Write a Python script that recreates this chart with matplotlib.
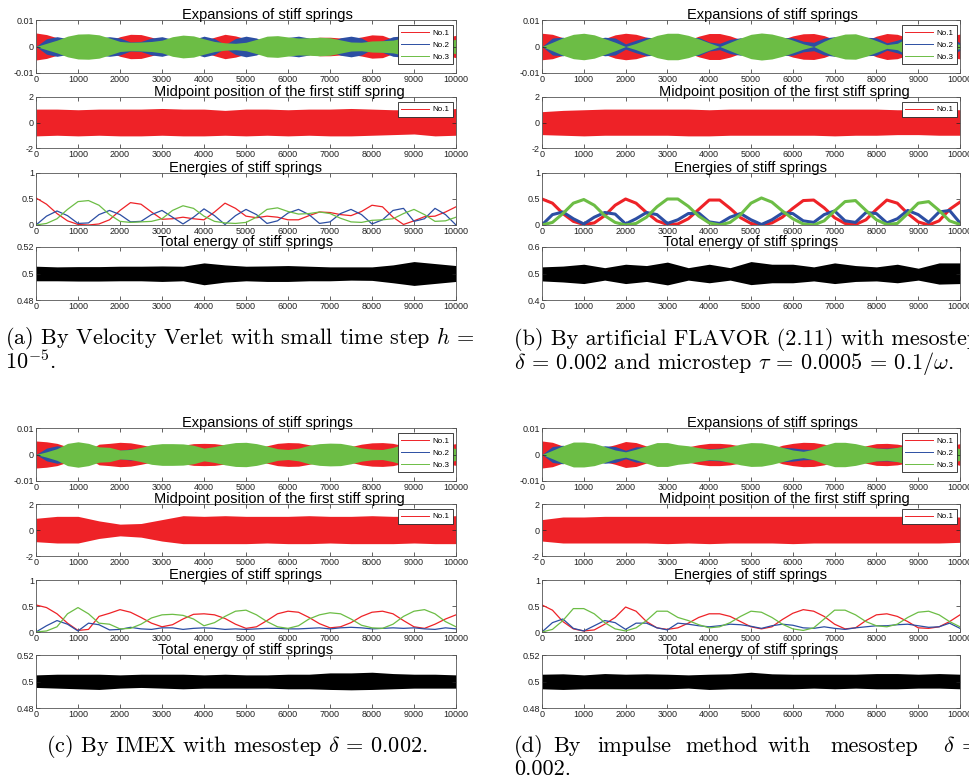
import numpy as np
import matplotlib.pyplot as plt
from matplotlib.lines import Line2D

plt.rcParams['font.family'] = ['Liberation Sans', 'DejaVu Sans']
plt.rcParams['mathtext.fontset'] = 'cm'

# time grids (every 250 for envelopes / energies, every 500 for noisy bands)
t_fine = np.arange(0, 10001, 250)
t_band = np.arange(0, 10001, 500)

# ---------------- (a) Velocity Verlet ----------------
# expansion envelopes, units of 1e-3
exp_red_a = [5.1, 4.5, 3.3, 2.0, 0.7, 0.0, 1.0, 2.2, 3.7, 4.6, 4.5, 3.5, 2.3, 2.4, 2.7, 2.4, 2.2, 3.5, 4.6, 4.0, 2.9,
             2.6, 2.9, 2.7, 2.2, 2.2, 3.0, 3.5, 3.5, 3.2, 3.0, 3.6, 4.4, 4.2, 2.7, 0.7, 2.0, 2.8, 2.9, 3.5, 4.2]
exp_blue_a = [0.0, 2.9, 3.7, 3.0, 1.2, 1.4, 3.2, 3.7, 3.2, 1.7, 1.9, 3.2, 3.7, 2.7, 1.0, 2.7, 3.9, 3.0, 0.7, 3.0, 3.9,
              3.2, 1.2, 2.0, 3.4, 3.9, 3.2, 1.2, 1.7, 3.3, 3.9, 3.2, 1.0, 2.2, 3.7, 4.0, 1.9, 2.4, 4.0, 3.2, 0.0]
exp_green_a = [0.0, 1.2, 2.4, 3.9, 4.7, 4.8, 4.4, 3.2, 1.9, 1.6, 1.7, 1.9, 2.4, 3.7, 4.3, 4.0, 2.9, 1.9, 1.4, 1.2, 1.6,
               2.7, 3.9, 4.1, 3.6, 3.2, 3.3, 3.5, 3.3, 2.5, 1.7, 1.6, 2.1, 2.2, 2.4, 3.3, 3.9, 3.2, 1.9, 2.0, 2.7]
mid_up_a = [1.05, 1.05, 1.0, 1.05, 1.05, 1.05, 1.1, 1.05, 1.05, 0.95, 1.05, 1.05, 1.0, 1.05, 1.05, 1.1, 1.05, 1.0, 1.0, 0.95, 1.1]
mid_lo_a = [-1.05, -1.0, -1.05, -1.0, -1.05, -1.05, -1.0, -1.05, -1.05, -1.0, -1.05, -1.0, -1.05, -1.0, -1.05, -1.05, -1.0, -0.95, -0.9, -1.05, -1.0]
en_red_a = [0.52, 0.40, 0.22, 0.08, 0.01, 0.0, 0.02, 0.10, 0.28, 0.43, 0.40, 0.25, 0.11, 0.12, 0.15, 0.12, 0.10, 0.25, 0.42, 0.32, 0.17,
            0.14, 0.17, 0.15, 0.10, 0.10, 0.18, 0.25, 0.24, 0.20, 0.18, 0.26, 0.38, 0.35, 0.15, 0.01, 0.08, 0.16, 0.17, 0.25, 0.35]
en_blue_a = [0.0, 0.17, 0.27, 0.18, 0.03, 0.04, 0.20, 0.28, 0.20, 0.06, 0.07, 0.20, 0.28, 0.15, 0.02, 0.15, 0.31, 0.18, 0.01, 0.18, 0.30,
             0.20, 0.03, 0.08, 0.23, 0.30, 0.20, 0.03, 0.06, 0.22, 0.30, 0.20, 0.02, 0.10, 0.28, 0.32, 0.07, 0.12, 0.32, 0.20, 0.0]
en_green_a = [0.0, 0.03, 0.12, 0.30, 0.45, 0.47, 0.38, 0.20, 0.07, 0.05, 0.06, 0.07, 0.12, 0.28, 0.37, 0.32, 0.17, 0.07, 0.04, 0.03, 0.05,
              0.15, 0.30, 0.33, 0.26, 0.21, 0.22, 0.25, 0.22, 0.13, 0.06, 0.05, 0.09, 0.10, 0.12, 0.22, 0.30, 0.20, 0.07, 0.08, 0.15]
tot_up_a = [0.5055, 0.505, 0.5052, 0.5052, 0.5055, 0.5055, 0.5057, 0.5055, 0.508, 0.5065, 0.5055, 0.5057, 0.506, 0.5055, 0.505, 0.505,
            0.505, 0.5065, 0.509, 0.5075, 0.506]
tot_lo_a = [0.4945, 0.4945, 0.4943, 0.4943, 0.4945, 0.4945, 0.494, 0.4945, 0.4915, 0.4935, 0.4945, 0.494, 0.494, 0.4945, 0.4945, 0.495,
            0.4948, 0.493, 0.491, 0.4925, 0.494]

# ---------------- (b) artificial FLAVOR ----------------
exp_red_b = [5.0, 4.6, 3.3, 1.9, 0.7, 1.4, 3.0, 4.4, 5.0, 4.6, 3.5, 2.0, 0.7, 1.0, 2.4, 3.9, 4.9, 4.9, 4.0, 2.6, 1.2,
             0.0, 1.4, 2.7, 4.0, 4.8, 4.9, 4.1, 2.6, 1.2, 0.7, 2.2, 3.9, 4.9, 4.6, 3.3, 1.7, 0.0, 2.0, 3.9, 4.7]
exp_blue_b = [0.0, 3.2, 3.5, 2.4, 1.0, 2.7, 3.5, 3.2, 1.0, 2.4, 3.5, 3.2, 1.2, 2.2, 3.3, 3.4, 1.7, 1.2, 2.7, 3.3, 2.2,
              0.7, 2.2, 3.4, 3.3, 2.0, 1.6, 3.2, 3.7, 2.0, 1.6, 3.5, 3.3, 1.4, 2.4, 3.7, 3.2, 1.6, 3.5, 3.7, 1.4]
exp_green_b = [0.0, 1.6, 3.3, 4.6, 5.0, 4.4, 3.0, 1.6, 0.0, 1.2, 2.7, 4.2, 5.0, 5.0, 4.2, 2.9, 1.4, 0.0, 1.6, 3.2, 4.6,
               5.1, 4.7, 3.7, 2.4, 1.0, 0.0, 2.0, 3.7, 4.7, 4.8, 3.7, 2.2, 0.7, 1.2, 3.3, 4.6, 4.7, 3.7, 2.0, 0.7]
mid_up_b = [0.85, 0.95, 1.0, 1.05, 1.05, 1.05, 1.05, 1.05, 1.0, 1.05, 1.05, 1.05, 1.05, 1.05, 1.05, 1.05, 1.05, 1.0, 1.0, 1.05, 1.0]
mid_lo_b = [-0.95, -1.0, -1.05, -1.0, -1.0, -1.0, -1.0, -1.05, -1.05, -1.0, -1.0, -1.0, -1.0, -1.0, -1.05, -1.0, -1.0, -0.95, -0.95, -1.0, -1.0]
en_red_b = [0.50, 0.42, 0.22, 0.07, 0.01, 0.04, 0.18, 0.38, 0.50, 0.42, 0.24, 0.08, 0.01, 0.02, 0.12, 0.30, 0.48, 0.48, 0.32, 0.14, 0.03,
            0.0, 0.04, 0.15, 0.32, 0.47, 0.48, 0.33, 0.14, 0.03, 0.01, 0.10, 0.30, 0.48, 0.42, 0.22, 0.06, 0.0, 0.08, 0.30, 0.44]
en_blue_b = [0.0, 0.20, 0.25, 0.12, 0.02, 0.15, 0.24, 0.21, 0.02, 0.12, 0.24, 0.20, 0.03, 0.10, 0.22, 0.23, 0.06, 0.03, 0.15, 0.22, 0.10,
             0.01, 0.10, 0.23, 0.22, 0.08, 0.05, 0.20, 0.27, 0.08, 0.05, 0.24, 0.22, 0.04, 0.12, 0.28, 0.20, 0.05, 0.25, 0.28, 0.04]
en_green_b = [0.0, 0.05, 0.22, 0.42, 0.49, 0.38, 0.18, 0.05, 0.0, 0.03, 0.15, 0.35, 0.50, 0.50, 0.36, 0.17, 0.04, 0.0, 0.05, 0.20, 0.42,
              0.52, 0.44, 0.27, 0.12, 0.02, 0.0, 0.08, 0.27, 0.45, 0.47, 0.28, 0.10, 0.01, 0.03, 0.22, 0.42, 0.45, 0.28, 0.08, 0.01]
tot_up_b = [0.525, 0.528, 0.535, 0.522, 0.535, 0.53, 0.543, 0.522, 0.535, 0.522, 0.545, 0.535, 0.535, 0.525, 0.54, 0.53, 0.525, 0.535,
            0.52, 0.54, 0.54]
tot_lo_b = [0.472, 0.468, 0.462, 0.475, 0.462, 0.47, 0.457, 0.475, 0.465, 0.475, 0.458, 0.465, 0.465, 0.472, 0.462, 0.47, 0.472, 0.465,
            0.475, 0.46, 0.462]

# ---------------- (c) IMEX ----------------
exp_red_c = [5.1, 4.8, 4.2, 2.9, 1.2, 1.6, 3.9, 4.2, 4.6, 4.4, 3.7, 2.9, 2.2, 2.6, 3.5, 4.1, 4.2, 4.1, 3.6, 2.7, 1.9,
             2.2, 3.3, 4.2, 4.5, 4.4, 3.7, 2.8, 2.0, 2.2, 3.0, 3.9, 4.4, 4.5, 4.2, 3.3, 2.2, 1.9, 2.7, 3.5, 4.1]
exp_blue_c = [0.0, 2.4, 3.3, 2.7, 1.0, 2.9, 2.6, 1.4, 1.6, 2.1, 1.7, 1.6, 2.0, 2.0, 1.6, 1.9, 2.0, 1.9, 1.6, 1.7, 1.6,
              1.7, 1.9, 1.9, 1.7, 1.7, 1.9, 2.0, 1.7, 2.0, 2.1, 2.0, 1.7, 1.9, 2.0, 1.9, 2.0, 1.7, 1.6, 2.0, 1.7]
exp_green_c = [0.0, 1.0, 2.2, 4.2, 4.8, 4.2, 2.9, 2.7, 1.7, 1.9, 2.7, 3.7, 4.1, 4.1, 4.0, 3.5, 2.4, 3.0, 3.9, 4.5, 4.6,
               4.1, 3.2, 2.2, 1.9, 2.4, 3.5, 4.1, 4.3, 4.2, 3.5, 2.5, 2.0, 1.9, 2.7, 3.9, 4.5, 4.6, 4.2, 3.2, 2.2]
mid_up_c = [0.9, 1.05, 1.05, 0.7, 0.45, 0.5, 0.8, 1.1, 1.05, 1.1, 1.05, 1.05, 1.05, 1.1, 1.05, 1.05, 1.1, 1.05, 1.05, 1.05, 1.1]
mid_lo_c = [-0.9, -1.0, -1.0, -0.65, -0.45, -0.55, -0.85, -1.05, -1.05, -1.05, -1.05, -1.0, -1.05, -1.05, -1.0, -1.05, -1.05, -1.05,
            -1.0, -1.05, -1.05]
en_red_c = [0.52, 0.47, 0.35, 0.17, 0.03, 0.05, 0.30, 0.36, 0.43, 0.38, 0.28, 0.17, 0.10, 0.14, 0.25, 0.34, 0.35, 0.33, 0.26, 0.15, 0.07,
            0.10, 0.22, 0.35, 0.40, 0.38, 0.28, 0.16, 0.08, 0.10, 0.18, 0.30, 0.38, 0.40, 0.35, 0.22, 0.10, 0.07, 0.15, 0.25, 0.33]
en_blue_c = [0.0, 0.12, 0.22, 0.15, 0.02, 0.17, 0.14, 0.04, 0.05, 0.09, 0.06, 0.05, 0.08, 0.08, 0.05, 0.07, 0.08, 0.07, 0.05, 0.06, 0.05,
             0.06, 0.07, 0.07, 0.06, 0.06, 0.07, 0.08, 0.06, 0.08, 0.09, 0.08, 0.06, 0.07, 0.08, 0.07, 0.08, 0.06, 0.05, 0.08, 0.06]
en_green_c = [0.0, 0.02, 0.10, 0.35, 0.47, 0.35, 0.17, 0.15, 0.06, 0.07, 0.15, 0.27, 0.33, 0.34, 0.32, 0.25, 0.12, 0.18, 0.30, 0.40, 0.42,
              0.33, 0.20, 0.10, 0.07, 0.12, 0.25, 0.33, 0.37, 0.35, 0.25, 0.13, 0.08, 0.07, 0.15, 0.30, 0.40, 0.43, 0.35, 0.20, 0.10]
tot_up_c = [0.505, 0.5055, 0.5055, 0.5055, 0.505, 0.5055, 0.5055, 0.5055, 0.505, 0.5055, 0.505, 0.505, 0.5055, 0.5055, 0.5065, 0.5065,
            0.507, 0.506, 0.5055, 0.5055, 0.505]
tot_lo_c = [0.4955, 0.495, 0.4945, 0.494, 0.495, 0.4955, 0.495, 0.4945, 0.495, 0.495, 0.495, 0.495, 0.4945, 0.4945, 0.494, 0.4937,
            0.494, 0.4945, 0.495, 0.495, 0.495]

# ---------------- (d) impulse method ----------------
exp_red_d = [5.1, 4.6, 3.2, 1.7, 1.0, 1.4, 2.7, 3.7, 4.9, 4.5, 3.2, 2.0, 1.6, 2.0, 2.9, 3.7, 4.2, 4.2, 3.9, 3.2, 2.2,
             1.7, 2.2, 3.5, 4.2, 4.6, 4.5, 3.9, 2.7, 1.7, 2.0, 3.3, 4.1, 4.2, 3.9, 3.2, 2.0, 1.9, 2.2, 3.2, 4.1]
exp_blue_d = [0.0, 3.0, 3.5, 1.9, 1.0, 2.4, 3.3, 3.0, 1.6, 2.9, 2.9, 2.0, 1.4, 2.9, 2.7, 2.4, 2.2, 2.4, 2.7, 2.6, 2.3,
              1.9, 2.4, 2.7, 2.5, 2.0, 1.9, 2.2, 1.9, 1.6, 2.0, 2.2, 2.4, 2.4, 2.6, 2.7, 2.4, 2.1, 2.2, 2.9, 1.9]
exp_green_d = [0.0, 1.6, 3.3, 4.7, 4.7, 4.2, 3.0, 1.7, 1.0, 2.0, 3.3, 4.5, 4.5, 3.7, 3.3, 2.6, 2.0, 2.2, 3.0, 3.9, 4.5,
               4.4, 3.7, 2.7, 1.7, 1.2, 2.0, 3.5, 4.6, 4.6, 4.1, 3.2, 2.4, 2.2, 2.7, 3.7, 4.4, 4.5, 4.1, 3.2, 2.2]
mid_up_d = [0.8, 1.0, 1.0, 1.05, 1.05, 1.05, 1.05, 1.05, 1.05, 1.05, 1.05, 1.05, 1.05, 1.05, 1.05, 1.05, 1.05, 1.05, 1.05, 1.0, 1.0]
mid_lo_d = [-0.85, -1.0, -1.0, -1.0, -1.0, -1.0, -1.05, -1.0, -1.05, -1.0, -1.0, -1.0, -1.05, -1.0, -1.0, -1.0, -1.0, -1.0, -1.0, -1.0, -0.95]
en_red_d = [0.52, 0.42, 0.20, 0.06, 0.02, 0.04, 0.15, 0.28, 0.48, 0.40, 0.20, 0.08, 0.05, 0.08, 0.17, 0.28, 0.35, 0.35, 0.30, 0.20, 0.10,
            0.06, 0.10, 0.24, 0.36, 0.43, 0.40, 0.30, 0.15, 0.06, 0.08, 0.22, 0.33, 0.35, 0.30, 0.20, 0.08, 0.07, 0.10, 0.20, 0.33]
en_blue_d = [0.0, 0.18, 0.25, 0.07, 0.02, 0.12, 0.22, 0.18, 0.05, 0.17, 0.17, 0.08, 0.04, 0.17, 0.15, 0.12, 0.10, 0.12, 0.15, 0.14, 0.11,
             0.07, 0.12, 0.15, 0.13, 0.08, 0.07, 0.10, 0.07, 0.05, 0.08, 0.10, 0.12, 0.12, 0.14, 0.15, 0.12, 0.09, 0.10, 0.17, 0.07]
en_green_d = [0.0, 0.05, 0.22, 0.45, 0.45, 0.35, 0.18, 0.06, 0.02, 0.08, 0.22, 0.40, 0.40, 0.28, 0.22, 0.14, 0.08, 0.10, 0.18, 0.30, 0.40,
              0.38, 0.28, 0.15, 0.06, 0.03, 0.08, 0.25, 0.42, 0.42, 0.33, 0.20, 0.12, 0.10, 0.15, 0.28, 0.38, 0.40, 0.33, 0.20, 0.10]
tot_up_d = [0.5055, 0.5058, 0.505, 0.506, 0.5055, 0.5058, 0.5055, 0.505, 0.5055, 0.5058, 0.507, 0.5058, 0.5055, 0.5055, 0.5055, 0.5055,
            0.506, 0.506, 0.5055, 0.506, 0.5055]
tot_lo_d = [0.4945, 0.494, 0.4945, 0.4945, 0.4945, 0.4945, 0.4945, 0.495, 0.494, 0.4945, 0.4945, 0.4945, 0.4945, 0.495, 0.4945, 0.495,
            0.4945, 0.4945, 0.495, 0.495, 0.4945]

# axis ticks
x_ticks = list(range(0, 10001, 1000))
x_labels = [str(v) for v in x_ticks]
exp_ticks, exp_labels = [-0.01, 0, 0.01], ['-0.01', '0', '0.01']
mid_ticks, mid_labels = [-2, 0, 2], ['-2', '0', '2']
en_ticks, en_labels = [0, 0.5, 1], ['0', '0.5', '1']
tot_ticks_n, tot_labels_n = [0.48, 0.5, 0.52], ['0.48', '0.5', '0.52']
tot_ticks_w, tot_labels_w = [0.4, 0.5, 0.6], ['0.4', '0.5', '0.6']
spring_names = ['No.1', 'No.2', 'No.3']

RED, BLUE, GREEN = '#ee2227', '#2c4ea3', '#6cbd45'

W, H = 970, 780
fig = plt.figure(figsize=(W / 100, H / 100), dpi=100)

def add_ax(x0, x1, y0, y1):
    return fig.add_axes([x0 / W, 1 - y1 / H, (x1 - x0) / W, (y1 - y0) / H])

def style(ax, yt, yl):
    ax.set_xlim(0, 10000)
    ax.set_ylim(yt[0], yt[-1])
    ax.set_xticks(x_ticks)
    ax.set_xticklabels(x_labels)
    ax.set_yticks(yt)
    ax.set_yticklabels(yl)
    ax.tick_params(direction='in', length=3, width=0.5, top=True, right=True,
                   labelsize=6.5, pad=1.5, colors='#222222')
    for s in ax.spines.values():
        s.set_linewidth(0.6)
        s.set_color('#555555')

def title(ax, s, xf):
    ax.text(xf, 1.02, s, transform=ax.transAxes, ha='center', va='baseline',
            fontsize=10.5, zorder=10)

def legend(ax, colors):
    hs = [Line2D([], [], color=c, lw=0.7) for c in colors]
    lg = ax.legend(hs, spring_names[:len(colors)], loc='upper right', fontsize=5.8,
                   bbox_to_anchor=(0.992, 0.9), borderaxespad=0, fancybox=False,
                   edgecolor='#222222', framealpha=1, handlelength=3.4,
                   handletextpad=0.4, borderpad=0.45, labelspacing=0.55)
    lg.get_frame().set_linewidth(0.6)

def panel(x0, x1, rows, exps, mids, ens, tots, tot_t):
    # expansions
    ax = add_ax(x0, x1, *rows[0])
    for amp, c in zip(exps, [RED, BLUE, GREEN]):
        a = np.array(amp) * 1e-3
        ax.fill_between(t_fine, -a, a, color=c, lw=0)
    style(ax, exp_ticks, exp_labels)
    title(ax, 'Expansions of stiff springs', 0.552)
    legend(ax, [RED, BLUE, GREEN])
    # midpoint
    ax = add_ax(x0, x1, *rows[1])
    ax.fill_between(t_band, mids[1], mids[0], color=RED, lw=0)
    style(ax, mid_ticks, mid_labels)
    title(ax, 'Midpoint position of the first stiff spring', 0.58)
    legend(ax, [RED])
    # energies
    ax = add_ax(x0, x1, *rows[2])
    lw = 2.2 if tot_t[0] == tot_ticks_w else 0.9
    for e, c in zip(ens, [RED, BLUE, GREEN]):
        ax.plot(t_fine, e, color=c, lw=lw, solid_joinstyle='round')
    style(ax, en_ticks, en_labels)
    title(ax, 'Energies of stiff springs', 0.5)
    # total energy
    ax = add_ax(x0, x1, *rows[3])
    ax.fill_between(t_band, tots[1], tots[0], color='black', lw=0)
    style(ax, *tot_t)
    title(ax, 'Total energy of stiff springs', 0.5)

top_rows = [(20, 73), (97, 148), (173, 225), (247, 300)]
bot_rows = [(428, 481), (504, 556), (580, 632), (655, 708)]
L, R = (36, 456), (542, 960)

panel(*L, top_rows, [exp_red_a, exp_blue_a, exp_green_a], [mid_up_a, mid_lo_a],
      [en_red_a, en_blue_a, en_green_a], [tot_up_a, tot_lo_a], (tot_ticks_n, tot_labels_n))
panel(*R, top_rows, [exp_red_b, exp_blue_b, exp_green_b], [mid_up_b, mid_lo_b],
      [en_red_b, en_blue_b, en_green_b], [tot_up_b, tot_lo_b], (tot_ticks_w, tot_labels_w))
panel(*L, bot_rows, [exp_red_c, exp_blue_c, exp_green_c], [mid_up_c, mid_lo_c],
      [en_red_c, en_blue_c, en_green_c], [tot_up_c, tot_lo_c], (tot_ticks_n, tot_labels_n))
panel(*R, bot_rows, [exp_red_d, exp_blue_d, exp_green_d], [mid_up_d, mid_lo_d],
      [en_red_d, en_blue_d, en_green_d], [tot_up_d, tot_lo_d], (tot_ticks_n, tot_labels_n))

# captions
cap = dict(fontsize=16, family='cmr10', va='baseline')
def ftxt(x, y, s, **kw):
    fig.text(x / W, 1 - y / H, s, **{**cap, **kw})

ftxt(5, 344, r'(a) By Velocity Verlet with small time step $h$ =')
ftxt(5, 369, r'$10^{-5}$.')
ftxt(514, 345, r'(b) By artificial FLAVOR (2.11) with mesostep')
ftxt(514, 369, r'$\delta$ = 0.002 and microstep $\tau$ = 0.0005 = 0.1/$\omega$.')
ftxt(237, 752, r'(c) By IMEX with mesostep $\delta$ = 0.002.', ha='center')
for word, xw in zip(['(d)', 'By', 'impulse', 'method', 'with', 'mesostep', r'$\delta$', '='],
                    [514, 553, 597, 685, 768, 830, 943, 962]):
    ftxt(xw, 752, word)
ftxt(514, 775, '0.002.')

fig.savefig('out.png', dpi=100)
